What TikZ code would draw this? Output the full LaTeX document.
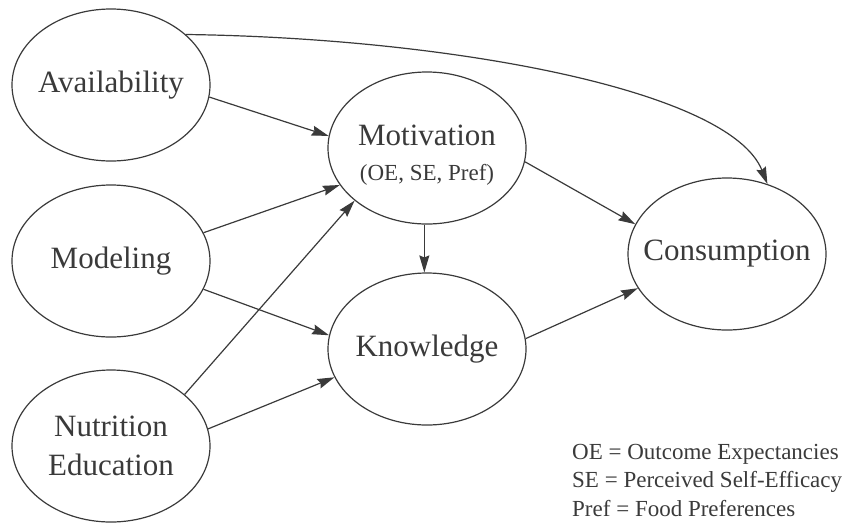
\documentclass[tikz,border=0pt]{standalone}
\usepackage{fontspec}
\setmainfont{Liberation Serif}
\usetikzlibrary{shapes.geometric,arrows.meta}
\definecolor{ink}{HTML}{3A3A3A}
\tikzset{
  ell/.style={ellipse, draw=ink, line width=1.2pt, minimum width=198pt, minimum height=152pt, inner sep=0pt},
  lab/.style={text=ink, font=\fontsize{31}{39}\selectfont, align=center, inner sep=0pt},
  arr/.style={draw=ink, line width=1.2pt, -{Stealth[length=17pt,width=10pt,inset=2pt]}},
}
\begin{document}
\begin{tikzpicture}[x=1pt,y=1pt]
\useasboundingbox (0,0) rectangle (845,-523);
\node[ell, label={[lab]center:Availability}] (avail) at (111,-85) {};
\node[ell, label={[lab]center:Modeling}] (model) at (111,-261) {};
\node[ell, label={[lab]center:Nutrition\\Education}] (nutr) at (111,-446) {};
\node[ell, label={[lab, yshift=-7pt]center:Motivation\\[-4pt]{\fontsize{23}{28}\selectfont (OE, SE, Pref)}}] (motiv) at (427,-148) {};
\node[ell, label={[lab]center:Knowledge}] (know) at (427,-349) {};
\node[ell, label={[lab]center:Consumption}] (cons) at (727,-254) {};

\draw[arr] (avail.-7) -- (motiv.173);
\draw[arr] (model.17.5) -- (motiv.203.5);
\draw[arr] (nutr.35.2) -- (motiv.216.3);
\draw[arr] (model.-17.5) -- (know.172);
\draw[arr] (nutr.10.9) -- (know.197.5);
\draw[arr] (motiv.-92) -- (know.92);
\draw[arr] (motiv.-8.5) -- (cons.162.5);
\draw[arr] (know.6.8) -- (cons.201.4);
\draw[arr] (avail.34) .. controls (450,-38) and (730,-90) .. (cons.60);

\node[text=ink, font=\fontsize{23}{28.5}\selectfont, align=left, anchor=north west, inner sep=0pt] (legend) at (572,-444)
  {OE = Outcome Expectancies\\SE = Perceived Self-Efficacy\\Pref = Food Preferences};
\end{tikzpicture}
\end{document}
